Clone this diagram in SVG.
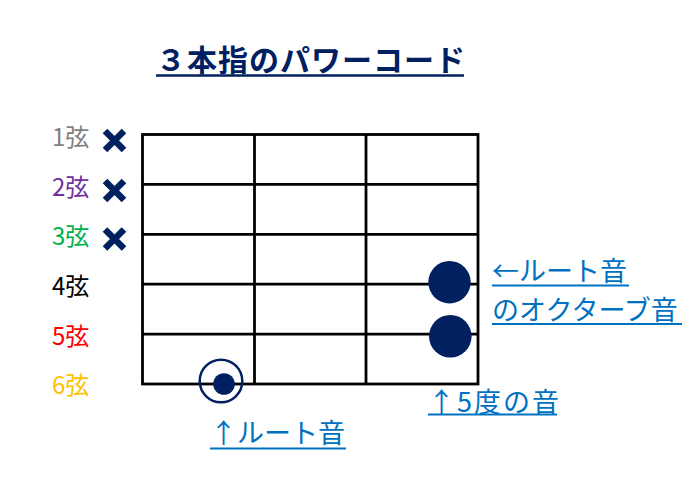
<svg xmlns="http://www.w3.org/2000/svg" width="700" height="492" viewBox="0 0 700 492">
<style>
text{font-family:"Noto Sans CJK JP","Noto Sans",sans-serif}
.title{font-size:30px;font-weight:bold;fill:#002060;letter-spacing:1px}
.str{font-size:24px}
.note{font-size:27px;fill:#0070C0}
.ul{stroke:#0070C0;stroke-width:2}
.grid{stroke:#000;stroke-width:2.8;fill:none}
.x{stroke:#002060;stroke-width:6.5;stroke-linecap:butt}
.dot{fill:#002060}
</style>
<rect width="700" height="492" fill="#fff"/>
<g id="title">
<text class="title" x="156" y="71">３本指のパワーコード</text>
<line x1="156" y1="75.5" x2="464" y2="75.5" stroke="#002060" stroke-width="2.3"/>
</g>
<g id="fretboard" class="grid">
<rect x="142.5" y="134.5" width="335.5" height="249.5"/>
<line x1="142.5" y1="184.4" x2="478" y2="184.4"/>
<line x1="142.5" y1="234.3" x2="478" y2="234.3"/>
<line x1="142.5" y1="284.2" x2="478" y2="284.2"/>
<line x1="142.5" y1="334.1" x2="478" y2="334.1"/>
<line x1="254.5" y1="134.5" x2="254.5" y2="384"/>
<line x1="366" y1="134.5" x2="366" y2="384"/>
</g>
<g id="string-labels">
<text class="str" x="52" y="146" fill="#7F7F7F">1弦</text>
<text class="str" x="52" y="196" fill="#7030A0">2弦</text>
<text class="str" x="52" y="245" fill="#00B050">3弦</text>
<text class="str" x="52" y="295" fill="#000000">4弦</text>
<text class="str" x="52" y="345" fill="#FF0000">5弦</text>
<text class="str" x="52" y="394" fill="#FFC000">6弦</text>
</g>
<g id="mutes" class="x">
<path d="M105 131L124 150M124 131L105 150"/>
<path d="M105 181L124 200M124 181L105 200"/>
<path d="M105 229.5L124 248.5M124 229.5L105 248.5"/>
</g>
<g id="root-6th">
<circle cx="221" cy="381" r="21.3" fill="none" stroke="#002060" stroke-width="2.5"/>
<circle class="dot" cx="224" cy="384" r="10.8"/>
</g>
<g id="octave-4th"><circle class="dot" cx="449.5" cy="282.2" r="21.2"/></g>
<g id="fifth-5th"><circle class="dot" cx="450.3" cy="336.3" r="21.3"/></g>
<g id="label-octave">
<text class="note" x="492" y="281">←ルート音</text>
<line class="ul" x1="492" y1="285.5" x2="629" y2="285.5"/>
<text class="note" x="492" y="320">のオクターブ音</text>
<line class="ul" x1="492" y1="324" x2="682" y2="324"/>
</g>
<g id="label-fifth">
<text class="note" x="428" y="411.5" letter-spacing="2">↑5度の音</text>
<line class="ul" x1="428" y1="414.5" x2="557" y2="414.5"/>
</g>
<g id="label-root">
<text class="note" x="210" y="443">↑ルート音</text>
<line class="ul" x1="210" y1="448.5" x2="346" y2="448.5"/>
</g>
</svg>
